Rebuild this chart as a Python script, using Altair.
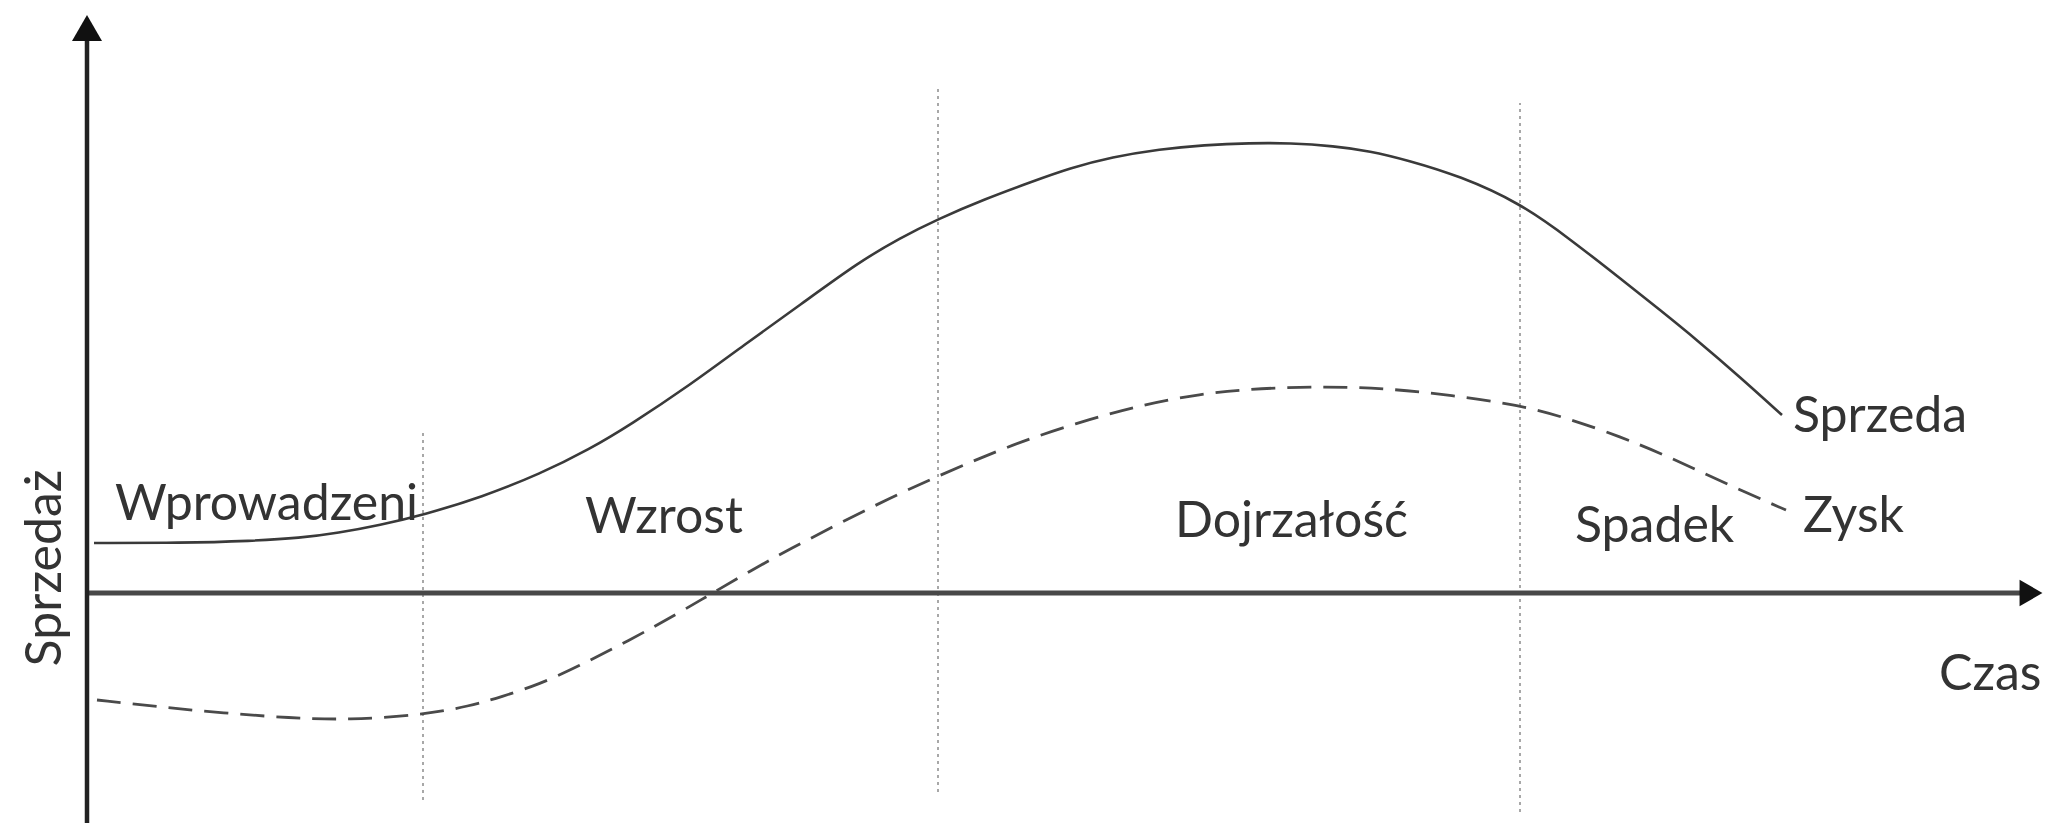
import altair as alt
import pandas as pd

# ---- data (time units, value units; axes cross at 0,0) ----
sales_t = [0.7, 9.3, 16.5, 21.3, 25.1, 29.3, 33.6, 39.5, 45.3, 50.3, 54.3, 60.3,
           65.7, 71.3, 77.2, 81.3, 85.1, 89.8, 94.4, 98.3, 102.5, 107.3, 111.7,
           116.3, 120.3, 124.7, 128.3, 132.0, 137.3, 143.3, 148.3, 153.4, 157.3,
           161.0, 165.3, 169.5]
sales_v = [5.0, 5.0, 5.2, 5.5, 6.0, 6.8, 7.8, 9.6, 11.9, 14.4, 16.8, 20.8,
           24.8, 28.8, 33.1, 35.5, 37.4, 39.4, 41.1, 42.5, 43.6, 44.4, 44.8,
           45.0, 45.0, 44.7, 44.2, 43.3, 41.7, 39.0, 35.4, 31.4, 28.3,
           25.3, 21.6, 17.8]

profit_t = [1.0, 7.3, 13.6, 20.3, 26.1, 33.6, 38.3, 41.4, 45.3, 49.0, 54.3, 59.0,
            62.4, 66.3, 70.3, 75.3, 80.3, 85.1, 89.8, 94.4, 100.3, 105.9, 111.3,
            116.3, 121.3, 126.3, 130.4, 136.3, 143.3, 148.3, 153.4, 157.3, 161.0,
            165.3, 169.9]
profit_v = [-10.7, -11.4, -12.0, -12.5, -12.7, -12.2, -11.3, -10.4, -9.1, -7.4, -4.7, -2.1,
            -0.1, 2.2, 4.4, 7.0, 9.5, 11.7, 13.7, 15.5, 17.4, 18.9, 19.9,
            20.4, 20.6, 20.6, 20.4, 19.8, 18.8, 17.4, 15.6, 14.0, 12.3,
            10.3, 8.3]

phase_bounds = [33.6, 85.1, 143.3]
phase_top = [16.0, 50.5, 49.0]
phase_bottom = [-20.7, -19.9, -21.9]

phase_names = ["Wprowadzeni", "Wzrost", "Dojrzałość", "Spadek"]
phase_label_t = [2.8, 49.8, 108.8, 148.8]
phase_label_v = [7.3, 6.0, 5.6, 5.1]

series_names = ["Sprzeda", "Zysk"]
series_label_t = [170.6, 171.6]
series_label_v = [16.1, 6.1]

x_title = "Czas"
x_title_t = [185.2]
x_title_v = [-9.7]
y_title = "Sprzedaż"
y_title_t = [-2.6]
y_title_v = [2.5]

x_domain = [-7.9, 195.7]
y_domain = [-23.0, 58.5]
x_axis_end = 194.4
y_axis_end = 56.0

FONT = "Lato"
TXT = "#333333"

# ---- tables ----
sales_df = pd.DataFrame({"t": sales_t, "v": sales_v})
profit_df = pd.DataFrame({"t": profit_t, "v": profit_v})
bounds_df = pd.DataFrame({"t": phase_bounds, "top": phase_top, "bottom": phase_bottom})
labels_df = pd.DataFrame({
    "t": phase_label_t + series_label_t + x_title_t,
    "v": phase_label_v + series_label_v + x_title_v,
    "label": phase_names + series_names + [x_title],
})
ytitle_df = pd.DataFrame({"t": y_title_t, "v": y_title_v, "label": [y_title]})
yaxis_df = pd.DataFrame({"t": [0.0], "v0": [y_domain[0]], "v1": [y_axis_end]})
xaxis_df = pd.DataFrame({"v": [0.0], "t0": [0.0], "t1": [x_axis_end]})
yarrow_df = pd.DataFrame({"t": [0.0], "v": [y_axis_end + 0.5]})
xarrow_df = pd.DataFrame({"t": [x_axis_end], "v": [0.0]})

xs = alt.Scale(domain=x_domain, nice=False, zero=False)
ys = alt.Scale(domain=y_domain, nice=False, zero=False)

X = lambda f: alt.X(f, type="quantitative", scale=xs, axis=None)
Y = lambda f: alt.Y(f, type="quantitative", scale=ys, axis=None)

bounds = alt.Chart(bounds_df).mark_rule(
    color="#8c8c8c", strokeWidth=1.5, strokeDash=[3, 4]
).encode(x=X("t"), y=Y("bottom"), y2="top")

yaxis = alt.Chart(yaxis_df).mark_rule(color="#222222", strokeWidth=4.5).encode(
    x=X("t"), y=Y("v0"), y2="v1")
xaxis = alt.Chart(xaxis_df).mark_rule(color="#484848", strokeWidth=5).encode(
    y=Y("v"), x=X("t0"), x2="t1")
yarrow = alt.Chart(yarrow_df).mark_point(
    shape="triangle-up", size=900, filled=True, color="#111111", opacity=1
).encode(x=X("t"), y=Y("v"))
xarrow = alt.Chart(xarrow_df).mark_point(
    shape="triangle-right", size=700, filled=True, color="#111111", opacity=1
).encode(x=X("t"), y=Y("v"))

sales = alt.Chart(sales_df).mark_line(
    interpolate="basis", color="#3a3a3a", strokeWidth=2.6
).encode(x=X("t"), y=Y("v"))
profit = alt.Chart(profit_df).mark_line(
    interpolate="basis", color="#4a4a4a", strokeWidth=2.8, strokeDash=[24, 12]
).encode(x=X("t"), y=Y("v"))

labels = alt.Chart(labels_df).mark_text(
    align="left", baseline="alphabetic", font=FONT, fontSize=50, color=TXT
).encode(x=X("t"), y=Y("v"), text="label:N")

ytitle = alt.Chart(ytitle_df).mark_text(
    align="center", baseline="alphabetic", font=FONT, fontSize=50, color=TXT, angle=270
).encode(x=X("t"), y=Y("v"), text="label:N")

chart = alt.layer(
    bounds, xaxis, yaxis, sales, profit, yarrow, xarrow, labels, ytitle
).properties(
    width=2036, height=815, padding=0,
    autosize=alt.AutoSizeParams(type="none"),
).configure_view(stroke=None)

chart.save("out.html", embed_options={"renderer": "svg", "actions": False})
